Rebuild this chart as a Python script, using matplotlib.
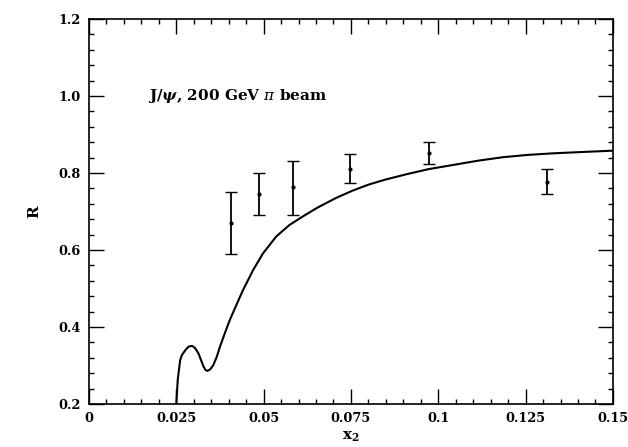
import matplotlib.pyplot as plt
from matplotlib.ticker import MultipleLocator, FixedFormatter, FixedLocator

# measured points
x_pts = [0.0408, 0.0486, 0.0585, 0.0746, 0.0973, 0.1310]
r_pts = [0.671, 0.745, 0.763, 0.811, 0.853, 0.777]
r_hi = [0.751, 0.799, 0.832, 0.849, 0.881, 0.811]
r_lo = [0.590, 0.690, 0.692, 0.775, 0.823, 0.745]

# theory curve
x_curve = [0.0250, 0.0254, 0.0261, 0.0266, 0.0276, 0.0285, 0.0295, 0.0304,
           0.0313, 0.0320, 0.0328, 0.0334, 0.0339, 0.0347, 0.0356, 0.0366,
           0.0375, 0.0389, 0.0403, 0.0418, 0.0441, 0.0470, 0.0498, 0.0536,
           0.0574, 0.0612, 0.0654, 0.0707, 0.0754, 0.0801, 0.0849, 0.0910,
           0.0972, 0.1043, 0.1114, 0.1185, 0.1256, 0.1327, 0.1398, 0.1500]
r_curve = [0.200, 0.262, 0.314, 0.327, 0.340, 0.349, 0.351, 0.345,
           0.332, 0.316, 0.297, 0.288, 0.286, 0.290, 0.301, 0.323,
           0.349, 0.384, 0.418, 0.449, 0.496, 0.548, 0.591, 0.635,
           0.665, 0.687, 0.710, 0.735, 0.754, 0.770, 0.783, 0.797,
           0.810, 0.821, 0.832, 0.841, 0.847, 0.851, 0.854, 0.858]

xticks = [0, 0.025, 0.05, 0.075, 0.1, 0.125, 0.15]
xtick_labels = ['0', '0.025', '0.05', '0.075', '0.1', '0.125', '0.15']
yticks = [0.2, 0.4, 0.6, 0.8, 1.0, 1.2]
ytick_labels = ['0.2', '0.4', '0.6', '0.8', '1.0', '1.2']

plt.rcParams['font.family'] = 'DejaVu Serif'
plt.rcParams['mathtext.fontset'] = 'dejavuserif'

fig = plt.figure(figsize=(6.28, 4.47), dpi=100)
ax = fig.add_axes([0.1417, 0.0962, 0.8343, 0.8613])

ax.plot(x_curve, r_curve, color='black', lw=1.5, solid_joinstyle='round')
yerr = [[r - lo for r, lo in zip(r_pts, r_lo)],
        [hi - r for r, hi in zip(r_pts, r_hi)]]
ax.errorbar(x_pts, r_pts, yerr=yerr, fmt='o', ms=2, color='black',
            ecolor='black', elinewidth=1.3, capsize=4, capthick=1.0)

ax.set_xlim(0, 0.15)
ax.set_ylim(0.2, 1.2)
ax.xaxis.set_major_locator(FixedLocator(xticks))
ax.xaxis.set_major_formatter(FixedFormatter(xtick_labels))
ax.yaxis.set_major_locator(FixedLocator(yticks))
ax.yaxis.set_major_formatter(FixedFormatter(ytick_labels))
ax.xaxis.set_minor_locator(MultipleLocator(0.005))
ax.yaxis.set_minor_locator(MultipleLocator(0.04))
ax.tick_params(which='both', direction='in', top=True, right=True,
               labelsize=9.3, width=1.0)
ax.tick_params(which='major', length=11, pad=6)
ax.tick_params(which='minor', length=3.5)
for lab in ax.get_xticklabels() + ax.get_yticklabels():
    lab.set_fontweight('bold')
for s in ax.spines.values():
    s.set_linewidth(1.2)

ax.text(0.017, 1.0, r'J/$\boldsymbol{\psi}$, 200 GeV $\pi$ beam', fontsize=11,
        fontweight='bold', va='center')
ax.set_xlabel(r'$\mathbf{x_2}$', fontsize=11, labelpad=3)
ax.set_ylabel('R', fontsize=11, fontweight='bold', labelpad=12)

fig.savefig('out.png', dpi=100)
